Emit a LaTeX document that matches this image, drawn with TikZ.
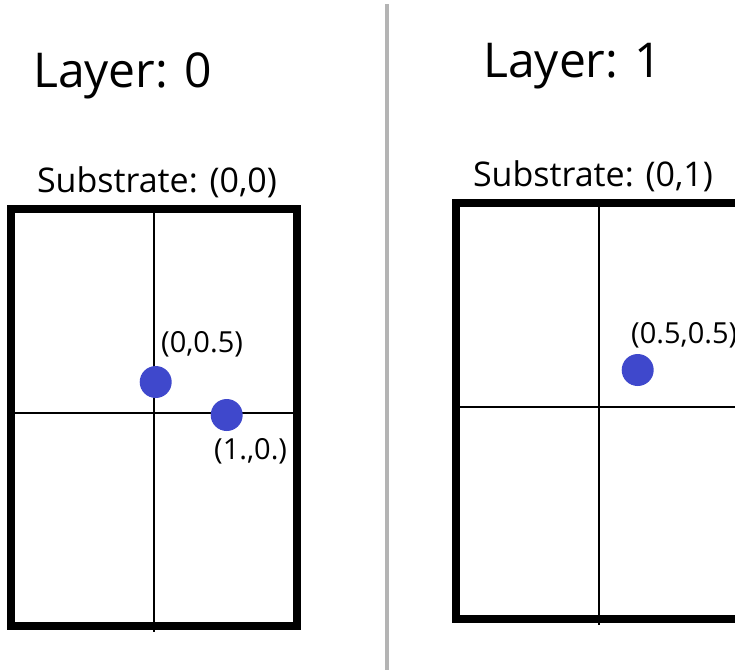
\documentclass[tikz,border=0pt]{standalone}
\usepackage{fontspec}
\setmainfont{Open Sans}
\usetikzlibrary{positioning}
\definecolor{DotBlue}{HTML}{3F48CC}
\definecolor{SplitGray}{HTML}{B4B4B4}

\begin{document}
\begin{tikzpicture}[
  x=1pt, y=-1pt,
  frame/.style={rectangle, draw=black, line width=8pt, minimum width=286pt, minimum height=417pt, inner sep=0pt, outer sep=0pt},
  axis/.style={draw=black, line width=1.3pt},
  dot/.style={circle, fill=DotBlue, minimum size=32pt, inner sep=0pt},
  title/.style={anchor=base west, inner sep=0pt, font=\fontsize{48}{58}\selectfont},
  sublbl/.style={anchor=base, inner sep=0pt, font=\fontsize{34}{40}\selectfont},
  ptlbl/.style={anchor=base west, inner sep=0pt, font=\fontsize{29}{34}\selectfont}
]
\useasboundingbox (0,0) rectangle (735,670);
\clip (0,0) rectangle (735,670);

% split between the two layers
\coordinate (splittop) at (387,4);
\coordinate (splitbot) at (387,670);
\draw[SplitGray, line width=4pt] (splittop) -- (splitbot);

% layer 0
\node[title] (layer0) at (33,87) {Layer: 0};
\node[sublbl] (sub0lbl) at (157,192) {Substrate: (0,0)};
\node[frame] (sub0) at (154,417.5) {};
\coordinate (sub0x) at (154,413);
\draw[axis] (sub0.north) -- ([yshift=-6pt]sub0.south);
\draw[axis] (sub0.west |- sub0x) -- (sub0.east |- sub0x);
\node[dot] (p00) at (155.7,382) {};
\node[dot] (p10) at (226.7,415) {};
\node[ptlbl] (p00lbl) at (161,352) {(0,0.5)};
\node[ptlbl] (p10lbl) at (214,459) {(1.,0.)};

% layer 1
\node[title] (layer1) at (483,77) {Layer: 1};
\node[sublbl] (sub1lbl) at (593,186) {Substrate: (0,1)};
\node[frame, minimum height=416pt] (sub1) at (599,411) {};
\coordinate (sub1x) at (599,407);
\draw[axis] (sub1.north) -- ([yshift=-6pt]sub1.south);
\draw[axis] (sub1.west |- sub1x) -- (sub1.east |- sub1x);
\node[dot] (p55) at (637.7,370) {};
\node[ptlbl] (p55lbl) at (631,343) {(0.5,0.5)};

\end{tikzpicture}
\end{document}
